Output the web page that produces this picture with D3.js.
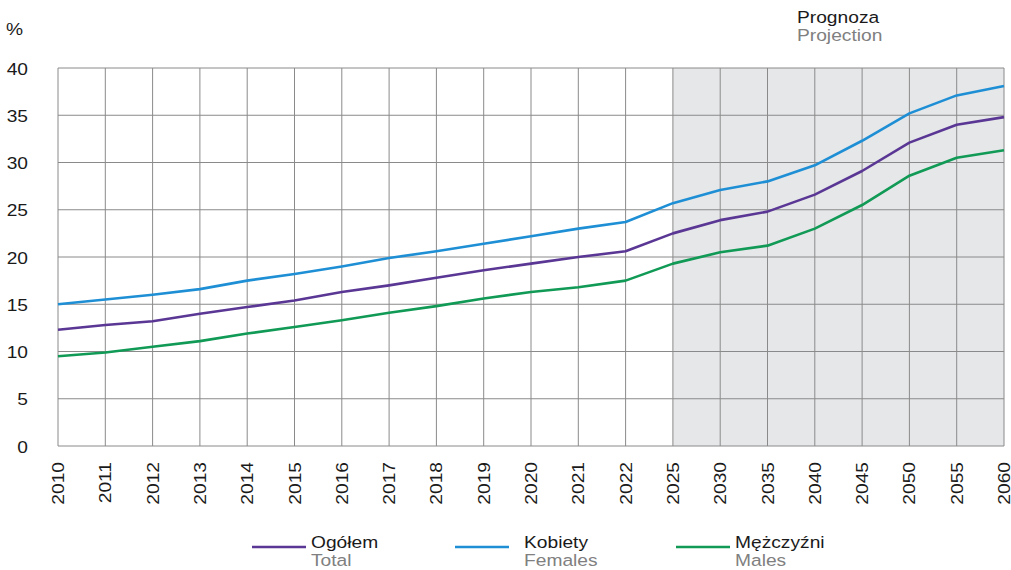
<!DOCTYPE html>
<html>
<head>
<meta charset="utf-8">
<script src="https://cdn.jsdelivr.net/npm/d3@7"></script>
<style>
  body { margin: 0; background: #fff; }
  text { font-family: "Liberation Sans", Arial, sans-serif; font-size: 17px; }
</style>
</head>
<body>
<script>
const years = ["2010","2011","2012","2013","2014","2015","2016","2017","2018","2019","2020","2021","2022",
               "2025","2030","2035","2040","2045","2050","2055","2060"];
const total   = [12.3,12.8,13.2,14.0,14.7,15.4,16.3,17.0,17.8,18.6,19.3,20.0,20.6,22.5,23.9,24.8,26.6,29.1,32.1,34.0,34.8];
const females = [15.0,15.5,16.0,16.6,17.5,18.2,19.0,19.9,20.6,21.4,22.2,23.0,23.7,25.7,27.1,28.0,29.7,32.3,35.2,37.1,38.1];
const males   = [9.5,9.9,10.5,11.1,11.9,12.6,13.3,14.1,14.8,15.6,16.3,16.8,17.5,19.3,20.5,21.2,23.0,25.5,28.6,30.5,31.3];
const yTicks = [0,5,10,15,20,25,30,35,40];
const projectionStart = "2025";

const series = [
  { pl: "Ogółem",    en: "Total",   color: "#5a3794", values: total },
  { pl: "Kobiety",   en: "Females", color: "#1e8fd5", values: females },
  { pl: "Mężczyźni", en: "Males",   color: "#109a55", values: males }
];

const width = 1011, height = 570;
const margin = { left: 58, right: 7, top: 68, bottom: 124 };
const sx = 1.13; // the source font is a bit wider than Arial

const svg = d3.select("body").append("svg")
  .attr("width", width)
  .attr("height", height);

const x = d3.scalePoint().domain(years).range([margin.left, width - margin.right]);
const y = d3.scaleLinear().domain([0, 40]).range([height - margin.bottom, margin.top]);

// shaded projection area
svg.append("rect")
  .attr("x", x(projectionStart))
  .attr("y", y(40))
  .attr("width", x(years[years.length - 1]) - x(projectionStart))
  .attr("height", y(0) - y(40))
  .attr("fill", "#e6e7e9");

// grid
svg.append("g").selectAll("line.h").data(yTicks).enter().append("line")
  .attr("x1", x(years[0])).attr("x2", x(years[years.length - 1]))
  .attr("y1", d => y(d)).attr("y2", d => y(d))
  .attr("stroke", "#8a8a8a").attr("stroke-width", 1);

svg.append("g").selectAll("line.v").data(years).enter().append("line")
  .attr("x1", d => x(d)).attr("x2", d => x(d))
  .attr("y1", y(0)).attr("y2", y(40))
  .attr("stroke", "#8a8a8a").attr("stroke-width", 1);

// y labels
svg.append("g").selectAll("text").data(yTicks).enter().append("text")
  .attr("transform", d => `translate(28,${y(d) + 6.5}) scale(${sx},1)`)
  .attr("text-anchor", "end")
  .attr("fill", "#1a1a1a")
  .text(d => d);

svg.append("text")
  .attr("transform", `translate(6,35) scale(${sx},1)`)
  .attr("fill", "#1a1a1a")
  .text("%");

// x labels
svg.append("g").selectAll("text").data(years).enter().append("text")
  .attr("transform", d => `translate(${x(d) + 6},${y(0) + 16}) rotate(-90) scale(${sx},1)`)
  .attr("text-anchor", "end")
  .attr("fill", "#1a1a1a")
  .text(d => d);

// lines
const line = d3.line()
  .x((d, i) => x(years[i]))
  .y(d => y(d));

svg.append("g").selectAll("path").data(series).enter().append("path")
  .attr("d", d => line(d.values))
  .attr("fill", "none")
  .attr("stroke", d => d.color)
  .attr("stroke-width", 2.6)
  .attr("stroke-linejoin", "round");

// projection label
svg.append("text").attr("transform", `translate(797,23) scale(${sx},1)`)
  .attr("fill", "#1a1a1a").text("Prognoza");
svg.append("text").attr("transform", `translate(797,41) scale(${sx},1)`)
  .attr("fill", "#808080").text("Projection");

// legend
const legendX = [252, 455, 676];
const legend = svg.append("g").selectAll("g").data(series).enter().append("g")
  .attr("transform", (d, i) => `translate(${legendX[i]},0)`);

legend.append("line")
  .attr("x1", 0).attr("x2", 54)
  .attr("y1", 547).attr("y2", 547)
  .attr("stroke", d => d.color).attr("stroke-width", 2.6);

legend.append("text")
  .attr("transform", (d, i) => `translate(${i === 1 ? 69 : 59},548) scale(${sx},1)`)
  .attr("fill", "#1a1a1a")
  .text(d => d.pl);

legend.append("text")
  .attr("transform", (d, i) => `translate(${i === 1 ? 69 : 59},566) scale(${sx},1)`)
  .attr("fill", "#808080")
  .text(d => d.en);
</script>
</body>
</html>
